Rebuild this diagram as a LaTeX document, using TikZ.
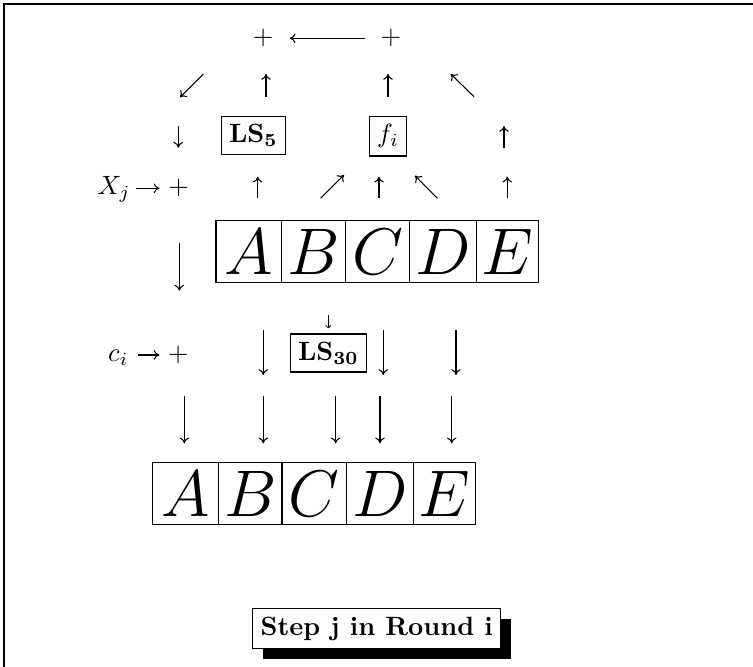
\documentclass[tikz,border=0pt]{standalone}
\usepackage{amsmath,amssymb}
\usepackage{tikz}
\usetikzlibrary{arrows.meta,positioning,shadows}

\begin{document}
\begin{tikzpicture}[x=0.3775pt, y=-0.3775pt]
\useasboundingbox (0,0) rectangle (753,667);
\draw[line width=0.8pt] (4,667) -- (4,4) -- (753,4);
\tikzstyle{pnode}=[inner sep=0pt]
\tikzstyle{lbox}=[draw, inner sep=3pt, line width=0.4pt]
\tikzstyle{cell}=[draw, inner sep=0pt, outer sep=0pt, minimum height=23.4pt,
  font=\Huge, line width=0.4pt]
\tikzstyle{arr}=[-{To[length=2.2pt,width=3.6pt]}, line width=0.4pt]
\node[pnode] (pTL) at (263.3,38.3) {$+$};
\node[pnode] (pTR) at (391,38.3) {$+$};
\node[pnode] (pX) at (178.8,188.3) {$+$};
\node[pnode] (pC) at (178.3,355) {$+$};
\node[pnode, anchor=base east] (Xj) at (131,194.9) {$X_j$};
\node[pnode, anchor=base east] (ci) at (129,361.6) {$c_i$};
\node[lbox] (LS5) at (253.3,135.9) {$\mathbf{LS_5}$};
\node[lbox] (fi) at (388,136.3) {$f_i$};
\node[lbox] (LS30) at (328.3,353) {$\mathbf{LS_{30}}$};
\node[cell, minimum width=24.8pt, anchor=west] (uA) at (216,251.7) {$A$};
\node[cell, minimum width=24pt, right=0pt of uA] (uB) {$B$};
\node[cell, minimum width=24.4pt, right=0pt of uB] (uC) {$C$};
\node[cell, minimum width=25.2pt, right=0pt of uC] (uD) {$D$};
\node[cell, minimum width=23.3pt, right=0pt of uD] (uE) {$E$};
\node[cell, minimum width=24.8pt, anchor=west] (lA) at (152.7,493.9) {$A$};
\node[cell, minimum width=24pt, right=0pt of lA] (lB) {$B$};
\node[cell, minimum width=24.4pt, right=0pt of lB] (lC) {$C$};
\node[cell, minimum width=25.2pt, right=0pt of lC] (lD) {$D$};
\node[cell, minimum width=23.3pt, right=0pt of lD] (lE) {$E$};
\node[lbox, fill=white, drop shadow={shadow xshift=4pt, shadow yshift=-4pt,
  fill=black, opacity=1}] (step) at (376.7,628.7) {\textbf{Step j in Round i}};
\draw[arr, shorten <=5.9pt, shorten >=5.9pt] (pTR.west) -- (pTL.east);
\draw[arr, shorten <=1.9pt, shorten >=3.2pt] (Xj.east |- pX) -- (pX.west);
\draw[arr, shorten <=3.5pt, shorten >=3pt] (ci.east |- pC) -- (pC.west);
\foreach \n/\xa/\ya/\xb/\yb in {a1/203.3/74/180/97.3, a2/266/96.7/266/74,
  a3/388/96.7/388/74, a4/474/96.7/450.7/74, a5/178.3/126/178.3/147.7,
  a6/504/147.7/504/126, a7/257.7/198.3/257.7/176.7, a8/320.7/198.3/344/175,
  a9/379/198.3/379/176.7, a10/437.3/198.3/415/175.7, a11/507.3/198.3/507.3/176.7,
  a12/179.3/243.3/179.3/290.7, a14/263.3/330/263.3/375, a15/383.3/330/383.3/375,
  a16/456/330/456/375, a17/184.3/396/184.3/443.3, a18/263.3/396/263.3/443.3,
  a19/335.7/396/335.7/443.3, a20/380/396/380/443.3, a21/451.7/396/451.7/443.3}{
  \coordinate (\n s) at (\xa,\ya);
  \coordinate (\n e) at (\xb,\yb);
  \draw[arr] (\n s) -- (\n e);
}
\coordinate (a13s) at (328.3,315);
\coordinate (a13e) at (328.3,328.3);
\draw[-{To[length=1.2pt,width=2.2pt]}, line width=0.3pt] (a13s) -- (a13e);
\end{tikzpicture}
\end{document}
